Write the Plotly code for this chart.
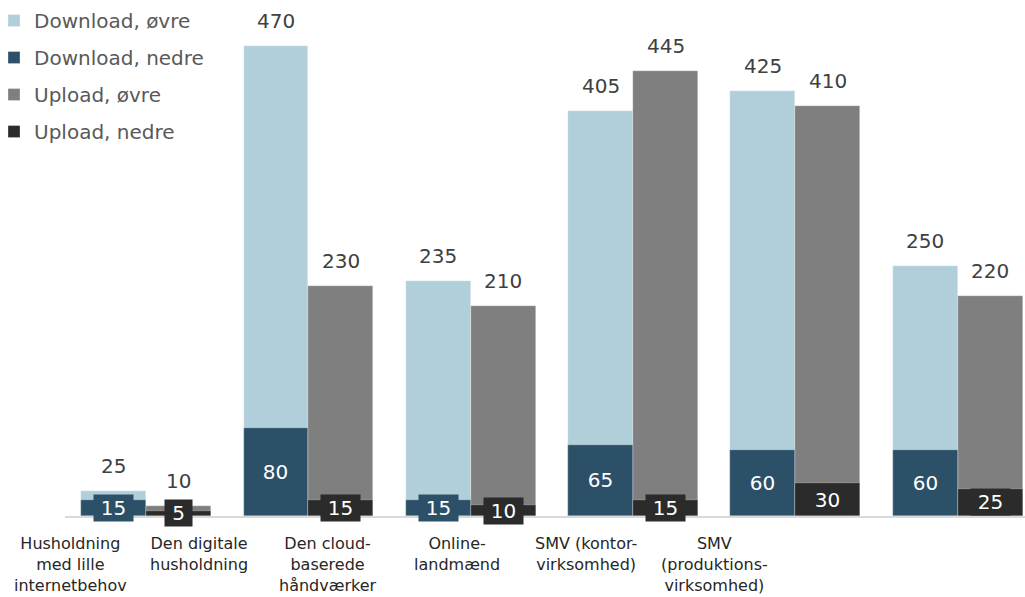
import numpy as np
import plotly.graph_objects as go

categories = [
    "Husholdning<br>med lille<br>internetbehov",
    "Den digitale<br>husholdning",
    "Den cloud-<br>baserede<br>håndværker",
    "Online-<br>landmænd",
    "SMV (kontor-<br>virksomhed)",
    "SMV<br>(produktions-<br>virksomhed)",
]
download_upper = [25, 470, 235, 405, 425, 250]
download_lower = [15, 80, 15, 65, 60, 60]
upload_upper = [10, 230, 210, 445, 410, 220]
upload_lower = [5, 15, 10, 15, 30, 25]

C_DL_UP = "#b1cfda"
C_DL_LO = "#2c5068"
C_UL_UP = "#7f7f7f"
C_UL_LO = "#2b2b2b"
FONT = "DejaVu Sans"

W, H = 1025, 597
ML, MR, MT, MB = 65, 0, 0, 81
BAR_W = 0.40
n = len(download_upper)
idx = np.arange(n)
x_dl = idx - BAR_W / 2
x_ul = idx + BAR_W / 2

fig = go.Figure()
series = [
    ("Download, øvre", download_upper, x_dl, C_DL_UP, "y", "g1"),
    ("Download, nedre", download_lower, x_dl, C_DL_LO, "y2", "g2"),
    ("Upload, øvre", upload_upper, x_ul, C_UL_UP, "y", "g3"),
    ("Upload, nedre", upload_lower, x_ul, C_UL_LO, "y2", "g4"),
]
for name, vals, xs, col, yax, grp in series:
    fig.add_trace(go.Bar(
        name=name, x=xs, y=vals, width=BAR_W, marker_color=col,
        marker_line=dict(color="rgba(255,255,255,0.6)", width=0.5),
        yaxis=yax, legendgroup=grp, hoverinfo="skip",
    ))

annotations = []
# upper labels
for vals, xs in [(download_upper, x_dl), (upload_upper, x_ul)]:
    for xv, v in zip(xs, vals):
        annotations.append(dict(
            x=xv, y=v, xref="x", yref="y", text=str(v), showarrow=False,
            yanchor="bottom", yshift=11,
            font=dict(family=FONT, size=20, color="#404040"),
        ))
# lower labels with boxes
for vals, xs, col in [(download_lower, x_dl, C_DL_LO), (upload_lower, x_ul, C_UL_LO)]:
    for xv, v in zip(xs, vals):
        annotations.append(dict(
            x=xv, y=v / 2, xref="x", yref="y2", text=str(v), showarrow=False,
            yanchor="middle", bgcolor=col, borderpad=1,
            width=13 + 12 * len(str(v)), height=24,
            font=dict(family=FONT, size=20, color="#ffffff"),
        ))
# category labels (offset slots as in the reference)
slot_px = 128.9
first_px = 70
plot_w = W - ML - MR
for i, c in enumerate(categories):
    px = first_px + slot_px * i
    annotations.append(dict(
        x=(px - ML) / plot_w, y=0, xref="paper", yref="paper", text=c,
        showarrow=False, yanchor="top", yshift=-16, xanchor="center",
        font=dict(family=FONT, size=16, color="#262626"),
    ))

x_range = [-0.5, -0.5 + plot_w / 162.3]
plot_h = H - MT - MB
fig.update_layout(
    width=W, height=H, margin=dict(l=ML, r=MR, t=MT, b=MB, autoexpand=False),
    plot_bgcolor="white", paper_bgcolor="white",
    barmode="overlay", bargap=0,
    annotations=annotations,
    xaxis=dict(range=x_range, showticklabels=False, showgrid=False, zeroline=False,
               showline=True, linecolor="#d9d9d9", linewidth=2, ticks=""),
    yaxis=dict(range=[0, plot_h], visible=False, showgrid=False),
    yaxis2=dict(range=[0, plot_h / 1.1], overlaying="y", visible=False, showgrid=False),
    legend=dict(x=(-6 - ML) / plot_w, y=0.998, xref="paper", yref="paper",
                xanchor="left", yanchor="top", tracegroupgap=8,
                font=dict(family=FONT, size=20, color="#595959"),
                bgcolor="rgba(0,0,0,0)", itemclick=False, itemwidth=30),
    showlegend=True,
)
fig.write_html("out.html")
